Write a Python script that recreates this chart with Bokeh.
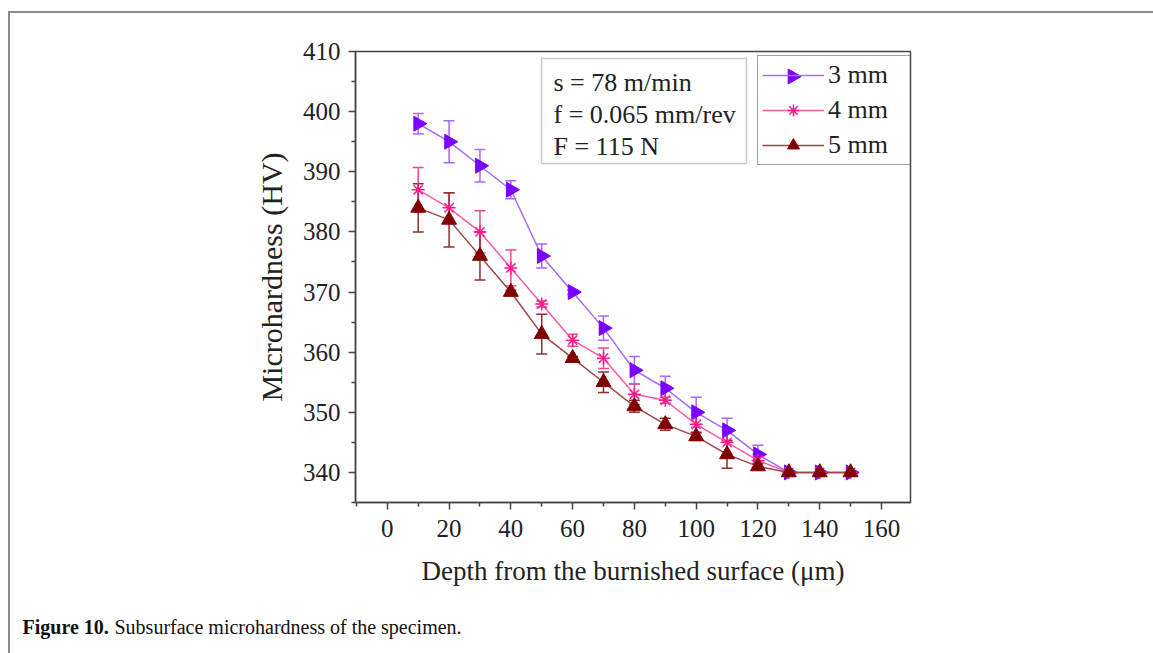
from bokeh.plotting import figure
from bokeh.models import (ColumnDataSource, Whisker, TeeHead, Label, BoxAnnotation,
                          Legend, LegendItem, FixedTicker, Range1d)
from bokeh.embed import file_html
from bokeh.resources import INLINE

depth = [10, 20, 30, 40, 50, 60, 70, 80, 90, 100, 110, 120, 130, 140, 150]
hv_3mm = [398, 395, 391, 387, 376, 370, 364, 357, 354, 350, 347, 343, 340, 340, 340]
err_3mm = [1.7, 3.5, 2.7, 1.5, 2.0, 0.4, 2.0, 2.3, 2.0, 2.5, 2.0, 1.5, 0, 0, 0]
hv_4mm = [387, 384, 380, 374, 368, 362, 359, 353, 352, 348, 345, 342, 340, 340, 340]
err_4mm = [3.7, 2.5, 3.5, 3.0, 0.5, 1.0, 1.7, 1.7, 0.5, 1.5, 2.0, 1.0, 0, 0, 0]
hv_5mm = [384, 382, 376, 370, 363, 359, 355, 351, 348, 346, 343, 341, 340, 340, 340]
err_5mm = [4.0, 4.5, 4.0, 0.3, 3.3, 0.3, 1.7, 1.0, 1.0, 0.7, 2.3, 0.5, 0, 0, 0]
series_names = ["3 mm", "4 mm", "5 mm"]
x_ticks = [0, 20, 40, 60, 80, 100, 120, 140, 160]
y_ticks = [340, 350, 360, 370, 380, 390, 400, 410]
params = ["s = 78 m/min", "f = 0.065 mm/rev", "F = 115 N"]
caption_bold = "Figure 10."
caption_text = "Subsurface microhardness of the specimen."

W, H = 1153, 653
FL, FR, FT, FB = 355, 910, 51, 502   # frame edges on the page
X0, X1, Y0, Y1 = -10.3, 169.4, 335, 410
FONT = "Liberation Serif"
AX = "#444444"
TXT = "#222222"
RULE = "#8a8a8a"


def px_to_x(px):
    return X0 + (px - FL) * (X1 - X0) / (FR - FL)


def px_to_y(py):
    return Y1 - (py - FT) * (Y1 - Y0) / (FB - FT)


p = figure(width=W, height=H, output_backend="svg", toolbar_location=None,
           x_range=Range1d(X0, X1), y_range=Range1d(Y0, Y1))
p.min_border_left = FL
p.min_border_right = W - FR
p.min_border_top = FT
p.min_border_bottom = H - FB
p.grid.visible = False
p.outline_line_color = AX
p.outline_line_width = 1.5
p.background_fill_color = "white"
p.border_fill_alpha = 0
# page rules (top and left) drawn behind the transparent canvas border
p.styles = {
    "background": (f"linear-gradient({RULE},{RULE}) 9px 11px / {W}px 2px no-repeat, "
                   f"linear-gradient({RULE},{RULE}) 8px 11px / 2px {H}px no-repeat, white"),
}

for ax in (p.xaxis[0], p.yaxis[0]):
    ax.axis_line_color = AX
    ax.axis_line_width = 1.5
    ax.major_tick_line_color = AX
    ax.minor_tick_line_color = AX
    ax.major_tick_line_width = 1.5
    ax.minor_tick_line_width = 1.5
    ax.major_tick_out = 7
    ax.major_tick_in = 0
    ax.minor_tick_out = 4
    ax.minor_tick_in = 0
    ax.major_label_text_font = FONT
    ax.major_label_text_font_size = "25px"
    ax.major_label_text_color = TXT
    ax.axis_label_text_font = FONT
    ax.axis_label_text_font_style = "normal"
    ax.axis_label_text_color = TXT

p.xaxis.ticker = FixedTicker(ticks=x_ticks, minor_ticks=[v + 10 for v in x_ticks[:-1]] + [-10])
p.yaxis.ticker = FixedTicker(ticks=y_ticks, minor_ticks=[v + 5 for v in y_ticks[:-1]] + [335])
p.xaxis.axis_label = "Depth from the burnished surface (μm)"
p.yaxis.axis_label = "Microhardness (HV)"
p.xaxis.axis_label_text_font_size = "27px"
p.yaxis.axis_label_text_font_size = "30px"
p.xaxis.major_label_standoff = 10
p.xaxis.axis_label_standoff = 16
p.yaxis.major_label_standoff = 8
p.yaxis.axis_label_standoff = 12

styles = [
    (hv_3mm, err_3mm, "#A36BFF", "#7A00FF", "#A766FF", "triangle", -90),
    (hv_4mm, err_4mm, "#FF5AA5", "#FF1A8C", "#EE4A8C", "asterisk", 0),
    (hv_5mm, err_5mm, "#A04545", "#800000", "#8E2E2E", "triangle", 0),
]
items = []
right_tri = None
for name, (vals, errs, lc, mc, ec, marker, ang) in zip(series_names, styles):
    src = ColumnDataSource(dict(x=depth, y=vals,
                                lo=[v - e for v, e in zip(vals, errs)],
                                hi=[v + e for v, e in zip(vals, errs)]))
    w = Whisker(source=src, base="x", lower="lo", upper="hi", line_color=ec, line_width=1.5,
                lower_head=TeeHead(size=11, line_color=ec, line_width=1.5),
                upper_head=TeeHead(size=11, line_color=ec, line_width=1.5))
    p.add_layout(w)
    r1 = p.line("x", "y", source=src, line_color=lc, line_width=1.5)
    if marker == "asterisk":
        r2 = p.scatter("x", "y", source=src, marker="asterisk", size=13,
                       line_color=mc, line_width=1.5)
        items.append(LegendItem(label=name, renderers=[r1, r2]))
    elif ang != 0:
        r2 = p.scatter("x", "y", source=src, marker="triangle", size=15,
                       fill_color=mc, line_color=mc, angle=ang, angle_units="deg")
        items.append(LegendItem(label=name, renderers=[r1]))
        right_tri = (mc, ang)
    else:
        r2 = p.scatter("x", "y", source=src, marker="triangle", size=15,
                       fill_color=mc, line_color=mc)
        items.append(LegendItem(label=name, renderers=[r1, r2]))

# legend box on the page: left 757, bottom 165
LEG_L, LEG_B = 757, 165
PAD, ROW, SP, GW = 4, 30, 5, 62
legend = Legend(items=items, location=(LEG_L - FL, FB - LEG_B))
legend.label_text_font = FONT
legend.label_text_font_size = "26px"
legend.label_text_color = TXT
legend.glyph_width = GW
legend.glyph_height = ROW
legend.label_width = 78
legend.label_height = ROW
legend.spacing = SP
legend.padding = PAD
legend.margin = 0
legend.label_standoff = 4
legend.border_line_color = AX
legend.border_line_width = 1.5
legend.background_fill_alpha = 0
p.add_layout(legend)

# right-pointing triangle key for the first legend entry (legend keys ignore marker angle)
leg_top = LEG_B - (3 * ROW + 2 * SP + 2 * PAD)
key = p.scatter(x=[px_to_x(LEG_L + PAD + GW / 2)], y=[px_to_y(leg_top + PAD + ROW / 2)],
                marker="triangle", size=15, fill_color=right_tri[0],
                line_color=right_tri[0], angle=right_tri[1], angle_units="deg")

box = BoxAnnotation(left=px_to_x(541), right=px_to_x(746), top=px_to_y(58), bottom=px_to_y(163),
                    fill_color="white", fill_alpha=1, line_color=AX, line_width=1.5)
p.add_layout(box)
for i, t in enumerate(params):
    p.add_layout(Label(x=px_to_x(553), y=px_to_y(82 + 32 * i), text=t, text_font=FONT,
                       text_font_size="26px", text_color=TXT, text_baseline="middle"))

# caption placed in the panel below the plot (each label gets its own slot)
cap1 = Label(x=22 - FL, y=-16, x_units="screen", y_units="screen", text=caption_bold,
             text_font=FONT, text_font_size="20px", text_font_style="bold",
             text_baseline="middle", text_color="#111111")
cap2 = Label(x=22 - FL + 92, y=6, x_units="screen", y_units="screen", text=caption_text,
             text_font=FONT, text_font_size="20px",
             text_baseline="middle", text_color="#111111")
p.add_layout(cap1, "below")
p.add_layout(cap2, "below")

with open("out.html", "w") as f:
    f.write(file_html(p, INLINE))
